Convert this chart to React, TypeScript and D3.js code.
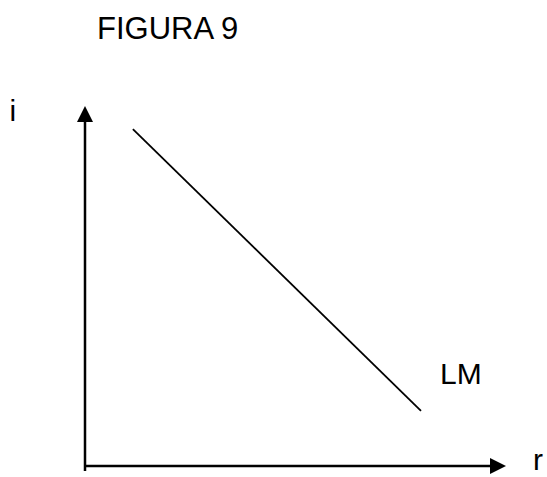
import React from "react";
import * as d3 from "d3";

const title = "FIGURA 9";
const xLabel = "r";
const yLabel = "i";
const curveLabel = "LM";
const lmX = [1.14, 8.0];
const lmY = [9.36, 1.53];

export default function App() {
  const W = 547, H = 477;
  const x = d3.scaleLinear().domain([0, 10]).range([85, 505]);
  const y = d3.scaleLinear().domain([0, 10]).range([466, 106]);
  const pts: [number, number][] = lmX.map((v, i) => [x(v), y(lmY[i])]);
  const line = d3.line()(pts) || "";
  const x0 = x(0), y0 = y(0);
  const yTop = y(10), xEnd = x(10);
  const font = "'Liberation Sans', Arial, sans-serif";
  return (
    <svg width={W} height={H} style={{ position: "absolute", left: 0, top: 0, background: "#fff" }}>
      <text x={97} y={39} fontFamily={font} fontSize={31} fill="#000">{title}</text>
      {/* y axis */}
      <line x1={x0} y1={y0 + 5} x2={x0} y2={yTop + 15} stroke="#000" strokeWidth={2.5} />
      <path d={`M${x0},${yTop} L${x0 - 8},${yTop + 16} L${x0 + 8},${yTop + 16} Z`} fill="#000" />
      {/* x axis */}
      <line x1={x0} y1={y0} x2={xEnd - 14} y2={y0} stroke="#000" strokeWidth={2.5} />
      <path d={`M${xEnd + 1},${y0} L${xEnd - 15},${y0 - 8} L${xEnd - 15},${y0 + 8} Z`} fill="#000" />
      <path d={line} stroke="#000" strokeWidth={1.8} fill="none" />
      <text x={9.5} y={120.5} fontFamily={font} fontSize={30} fill="#000">{yLabel}</text>
      <text x={533} y={470} fontFamily={font} fontSize={30} fill="#000">{xLabel}</text>
      <text x={440} y={384} fontFamily={font} fontSize={30} fill="#000">{curveLabel}</text>
    </svg>
  );
}
